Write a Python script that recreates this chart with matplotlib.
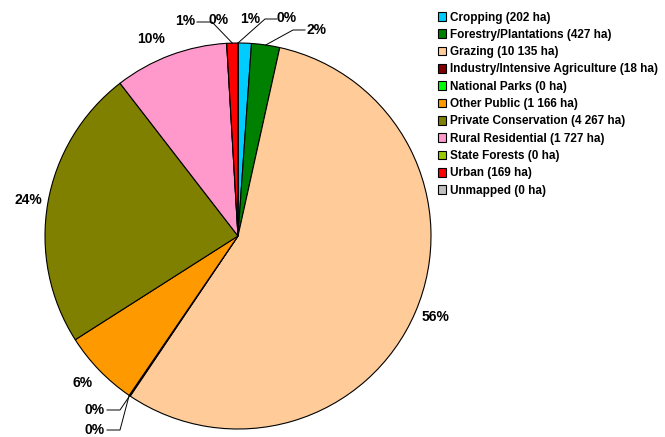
import matplotlib.pyplot as plt
import numpy as np

plt.rcParams['font.family'] = ['Liberation Sans', 'DejaVu Sans']
plt.rcParams['font.weight'] = 'bold'

categories = ["Cropping", "Forestry/Plantations", "Grazing",
              "Industry/Intensive Agriculture", "National Parks", "Other Public",
              "Private Conservation", "Rural Residential", "State Forests",
              "Urban", "Unmapped"]
areas_ha = [202, 427, 10135, 18, 0, 1166, 4267, 1727, 0, 169, 0]
area_labels = ["202", "427", "10 135", "18", "0", "1 166", "4 267", "1 727", "0", "169", "0"]
colours = ["#00CCFF", "#008000", "#FFCC99", "#800000", "#00FF00", "#FF9900",
           "#808000", "#FF99CC", "#99CC00", "#FF0000", "#C0C0C0"]

# pie geometry in pixels (centre + radius)
W, H = 665, 437
cx, cy, R = 238, 236, 193

fig = plt.figure(figsize=(W / 100, H / 100), dpi=100)
ax = fig.add_axes([(cx - R) / W, (H - cy - R) / H, 2 * R / W, 2 * R / H])

wedges, _ = ax.pie(areas_ha, colors=colours, startangle=90, counterclock=False,
                   radius=1, wedgeprops=dict(edgecolor="black", linewidth=0.8))
ax.set_xlim(-1, 1)
ax.set_ylim(-1, 1)
ax.axis("off")

total = float(sum(areas_ha))
pcts = ["%d%%" % round(100 * a / total) for a in areas_ha]


def px(x, y):
    return (x - cx) / R, (cy - y) / R


def edge_point(i):
    w = wedges[i]
    ang = np.deg2rad((w.theta1 + w.theta2) / 2)
    return cx + R * np.cos(ang), cy - R * np.sin(ang)


lab = dict(fontsize=10, fontweight="bold", ha="center", va="center")

# labels placed around the pie (pixel positions)
label_pos = {2: (436, 317), 6: (28, 200), 7: (151, 39), 5: (83, 383),
             1: (317, 30), 0: (250, 19), 9: (185, 21), 8: (219, 20),
             10: (287, 18), 3: (95, 410), 4: (95, 430)}
for i, (x, y) in label_pos.items():
    ax.text(*px(x, y), pcts[i], clip_on=False, zorder=3, **lab)

# leader lines
lw = 0.7
def leader(pts):
    xs, ys = zip(*[px(*p) for p in pts])
    ax.plot(xs, ys, color="black", lw=lw, clip_on=False, zorder=2)

leader([(305, 30), (293, 30), edge_point(1)])
leader([(197, 22), (212, 22), edge_point(9)])
leader([(277, 19), (265, 19), edge_point(10)])
for i, y in [(3, 410), (4, 430)]:
    leader([(107, y), (120, y), edge_point(i)])

legend_labels = ["%s (%s ha)" % (c, a) for c, a in zip(categories, area_labels)]
fig.legend(wedges, legend_labels, loc="upper left",
           bbox_to_anchor=(434 / W, 1 - 8 / H), frameon=False,
           prop=dict(size=8.5, weight="bold"), handlelength=0.75,
           handleheight=0.75, handletextpad=0.3, labelspacing=0.45,
           borderaxespad=0, borderpad=0.3)

fig.savefig("out.png", dpi=100)
